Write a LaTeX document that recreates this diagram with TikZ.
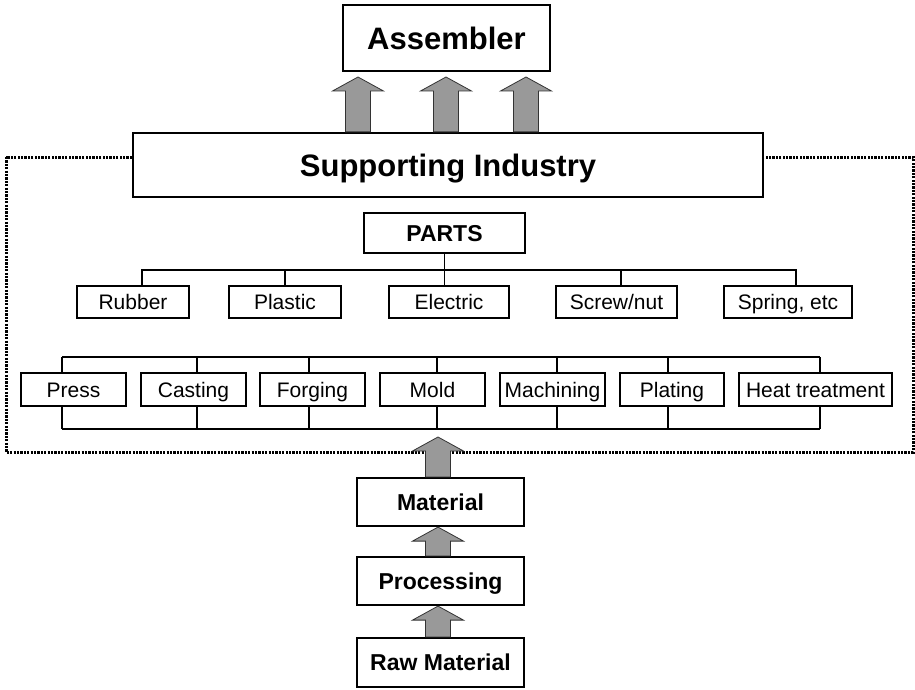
\documentclass[tikz,border=0pt]{standalone}
\usepackage{fontspec}
\setmainfont{Liberation Sans}
\usetikzlibrary{calc}
\definecolor{arrowgray}{HTML}{999999}

% Block arrow pointing up: #1 = base point, #2 = tip point
\newcommand\fatup[2]{%
  \filldraw[fatarrow] let \p1=(#1), \p2=(#2) in
    (\x1-12.5pt,\y1) -- (\x1-12.5pt,\y2-14pt) -- (\x1-25.5pt,\y2-14pt) --
    (\x1,\y2) -- (\x1+25.5pt,\y2-14pt) -- (\x1+12.5pt,\y2-14pt) --
    (\x1+12.5pt,\y1) -- cycle;}

\begin{document}
\begin{tikzpicture}[x=1pt,y=-1pt,
  box/.style={draw, line width=2.2pt, fill=white, inner sep=0pt, align=center,
              text depth=0pt},
  bigbox/.style={box, text height=22.5pt,
                 font=\bfseries\fontsize{31}{36}\selectfont},
  midbox/.style={box, text height=16.5pt,
                 font=\bfseries\fontsize{23}{27}\selectfont},
  smallbox/.style={box, line width=1.9pt, minimum height=32pt,
                   text height=15pt,
                   font=\fontsize{21}{25}\selectfont},
  procbox/.style={smallbox, minimum height=33pt},
  conn/.style={line width=1.4pt},
  frame/.style={line width=3pt, dash pattern=on 2.2pt off 1.2pt},
  fatarrow/.style={fill=arrowgray, draw=black!80, line width=0.8pt, line join=miter}]
\useasboundingbox (0,0) rectangle (915,690);

% dotted boundary of the supporting industry
\draw[frame] (6,157) rectangle (913,452);

% top level
\node[bigbox, minimum width=207pt, minimum height=66pt] (asm) at (446.5,38) {Assembler};
\node[bigbox, minimum width=630pt, minimum height=64pt] (sup) at (448,165) {Supporting Industry};

% parts
\node[midbox, minimum width=161pt, minimum height=40pt] (parts) at (444.5,233) {PARTS};
\node[smallbox, minimum width=112pt] (rubber)   at (133,302)   {Rubber};
\node[smallbox, minimum width=112pt] (plastic)  at (285,302)   {Plastic};
\node[smallbox, minimum width=120pt] (electric) at (449,302)   {Electric};
\node[smallbox, minimum width=121pt] (screw)    at (616.5,302) {Screw/nut};
\node[smallbox, minimum width=128pt] (spring)   at (788,302)   {Spring, etc};

% processes
\node[procbox, minimum width=105pt] (press)   at (73.5,389.5)  {Press};
\node[procbox, minimum width=105pt] (casting) at (193.5,389.5) {Casting};
\node[procbox, minimum width=105pt] (forging) at (312.5,389.5) {Forging};
\node[procbox, minimum width=105pt] (mold)    at (432.5,389.5) {Mold};
\node[procbox, minimum width=105pt] (mach)    at (552.5,389.5) {Machining};
\node[procbox, minimum width=104pt] (plating) at (672,389.5)   {Plating};
\node[procbox, minimum width=153pt] (heat)    at (815.5,389.5) {Heat treatment};

% material chain
\node[midbox, minimum width=167pt, minimum height=48pt] (mat)  at (440.5,502)   {Material};
\node[midbox, minimum width=167pt, minimum height=48pt] (proc) at (440.5,581)   {Processing};
\node[midbox, minimum width=167pt, minimum height=49pt] (raw)  at (440.5,662.5) {Raw Material};

% bus levels
\coordinate (busA) at (0,270);
\coordinate (busB) at (0,357);
\coordinate (busC) at (0,429);

% parts tree
\coordinate (sRubber) at ([xshift=9pt]rubber.north);
\coordinate (sScrew)  at ([xshift=4.5pt]screw.north);
\coordinate (sSpring) at ([xshift=8pt]spring.north);
\draw[conn] (sRubber) -- (sRubber |- busA) -- (sSpring |- busA) -- (sSpring);
\draw[conn] (plastic.north) -- (plastic.north |- busA);
\draw[conn] (parts.south) -- (parts.south |- electric.north);
\draw[conn] (sScrew) -- (sScrew |- busA);

% process tree, above and below the boxes
\foreach \n/\dx in {press/-11.5, casting/3.5, forging/-3.5, mold/4.5,
                    mach/4.5, plating/-4, heat/4.5} {
  \draw[conn] ([xshift=\dx pt]\n.north) -- ([xshift=\dx pt]\n.north |- busB);
  \draw[conn] ([xshift=\dx pt]\n.south) -- ([xshift=\dx pt]\n.south |- busC);
}
\draw[conn] ([xshift=-11.5pt]press.north |- busB) -- ([xshift=4.5pt]heat.north |- busB);
\draw[conn] ([xshift=-11.5pt]press.south |- busC) -- ([xshift=4.5pt]heat.south |- busC);

% block arrows
\coordinate (tipA) at (358,77);
\coordinate (tipB) at (446,77);
\coordinate (tipC) at (526,77);
\fatup{tipA |- sup.north}{tipA}
\fatup{tipB |- sup.north}{tipB}
\fatup{tipC |- sup.north}{tipC}

\coordinate (tipM) at (438,437);
\fatup{tipM |- mat.north}{tipM}
\fatup{tipM |- proc.north}{tipM |- mat.south}
\fatup{tipM |- raw.north}{tipM |- proc.south}
\end{tikzpicture}
\end{document}
